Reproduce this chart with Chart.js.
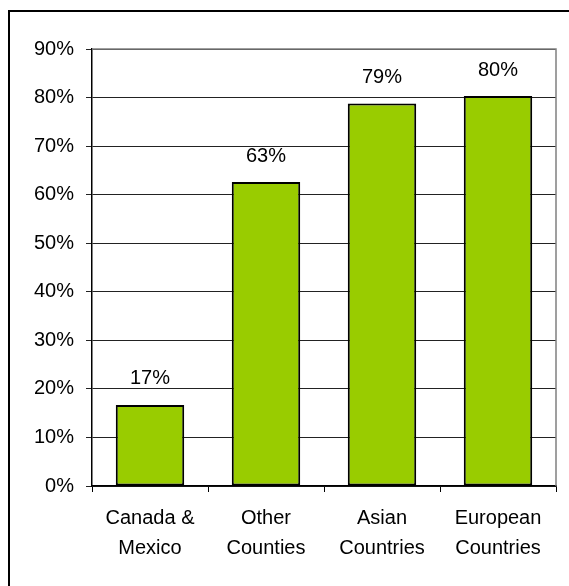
<!DOCTYPE html>
<html>
<head>
<meta charset="utf-8">
<script src="https://cdn.jsdelivr.net/npm/chart.js@4"></script>
<style>
  html, body { margin: 0; padding: 0; background: #fff; overflow: hidden; }
  #frame { position: absolute; left: 8px; top: 10px; width: 600px; height: 620px; border: 2px solid #000; }
  #wrap { position: absolute; left: 0; top: 0; width: 569px; height: 586px; }
</style>
</head>
<body>
<div id="frame"></div>
<div id="wrap"><canvas id="chart" width="569" height="586"></canvas></div>
<script>
// ── Data ──
const categories = [['Canada &', 'Mexico'], ['Other', 'Counties'], ['Asian', 'Countries'], ['European', 'Countries']];
const values = [16.7, 62.6, 78.8, 80.3];
const valueLabels = ['17%', '63%', '79%', '80%'];
const yTicks = [0, 10, 20, 30, 40, 50, 60, 70, 80, 90];

const FONT = 'Liberation Sans, Arial, sans-serif';

// ── Value labels above bars ──
const barLabels = {
  id: 'barLabels',
  afterDatasetsDraw(chart) {
    const ctx = chart.ctx;
    ctx.save();
    ctx.font = '20px ' + FONT;
    ctx.fillStyle = '#000';
    ctx.textAlign = 'center';
    ctx.textBaseline = 'middle';
    chart.getDatasetMeta(0).data.forEach((bar, i) => {
      ctx.fillText(valueLabels[i], bar.x, bar.y - 26);
    });
    ctx.restore();
  }
};

// ── Grey frame on top and right of plot ──
const plotFrame = {
  id: 'plotFrame',
  afterDraw(chart) {
    const a = chart.chartArea, ctx = chart.ctx;
    ctx.save();
    ctx.strokeStyle = '#808080';
    ctx.lineWidth = 1.5;
    ctx.beginPath();
    ctx.moveTo(a.left, a.top);
    ctx.lineTo(a.right, a.top);
    ctx.lineTo(a.right, a.bottom);
    ctx.stroke();
    ctx.restore();
  }
};

new Chart(document.getElementById('chart').getContext('2d'), {
  type: 'bar',
  data: {
    labels: categories,
    datasets: [{
      data: values,
      backgroundColor: '#99CC00',
      borderColor: '#000',
      borderWidth: 2,
      borderSkipped: false,
      categoryPercentage: 1,
      barPercentage: 0.59
    }]
  },
  options: {
    responsive: false,
    animation: false,
    layout: { padding: { top: 49, right: 13, left: 0, bottom: 0 } },
    plugins: { legend: { display: false }, tooltip: { enabled: false } },
    scales: {
      x: {
        grid: { display: true, drawOnChartArea: false, drawTicks: true, tickLength: 6, color: '#000', offset: true },
        border: { color: '#000', width: 1.5 },
        ticks: { color: '#000', font: { family: FONT, size: 20, lineHeight: 1.5 }, padding: 11, maxRotation: 0, autoSkip: false },
        afterFit: s => { s.height = 100; }
      },
      y: {
        min: 0, max: 90,
        afterBuildTicks: s => { s.ticks = yTicks.map(v => ({ value: v })); },
        grid: { color: '#222', lineWidth: 1, tickLength: 6 },
        border: { color: '#000', width: 1.5 },
        ticks: { color: '#000', font: { family: FONT, size: 20 }, padding: 12, callback: v => v + '%' },
        afterFit: s => { s.width = 92; }
      }
    }
  },
  plugins: [barLabels, plotFrame]
});
</script>
</body>
</html>
